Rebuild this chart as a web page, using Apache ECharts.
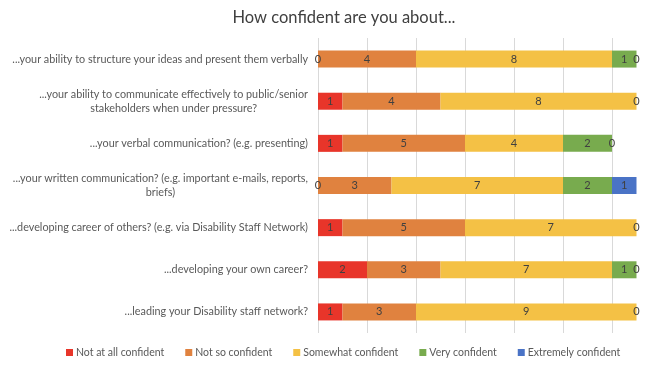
<!DOCTYPE html>
<html><head><meta charset="utf-8">
<script src="https://cdn.jsdelivr.net/npm/echarts@6/dist/echarts.min.js"></script>
<style>html,body{margin:0;padding:0;background:#fff}#c{width:654px;height:366px}</style>
</head><body><div id="c"></div>
<script>
const categories = [
  "...your ability to structure your ideas and present them verbally",
  "...your ability to communicate effectively to public/senior\nstakeholders when under pressure?",
  "...your verbal communication? (e.g. presenting)",
  "...your written communication? (e.g. important e-mails, reports,\nbriefs)",
  "...developing career of others? (e.g. via Disability Staff Network)",
  "...developing your own career?",
  "...leading your Disability staff network?"
];
const seriesNames = ["Not at all confident","Not so confident","Somewhat confident","Very confident","Extremely confident"];
const notAtAll   = [0,1,1,0,1,2,1];
const notSo      = [4,4,5,3,5,3,3];
const somewhat   = [8,8,4,7,7,7,9];
const very       = [1,0,2,2,0,1,0];
const extremely  = [0,0,0,1,0,0,0];
const colors = ["#E8352A","#E0823F","#F4C145","#78AB4E","#4A73C6"];
const values = [notAtAll, notSo, somewhat, very, extremely];

const chart = echarts.init(document.getElementById('c'));
const font = "Lato, 'Open Sans', sans-serif";
chart.setOption({
  animation:false,
  title:{text:"How confident are you about...",left:339,textAlign:'center',top:4,
    textStyle:{fontFamily:font,fontSize:16.5,fontWeight:'normal',color:'#404040'}},
  legend:{bottom:3,left:61,itemWidth:7,itemHeight:7,itemGap:21,icon:'rect',
    textStyle:{fontFamily:font,fontSize:10.5,color:'#595959',padding:[0,0,0,-2]}},
  grid:{left:318,top:38,height:295,width:318.5,containLabel:false},
  xAxis:{type:'value',min:0,max:13,interval:2,
    axisLabel:{show:false},axisLine:{show:false},axisTick:{show:false},
    splitLine:{showMaxLine:false,lineStyle:{color:'#d9d9d9',width:1}}},
  yAxis:{type:'category',data:categories,inverse:true,
    axisLine:{show:false},axisTick:{show:false},
    axisLabel:{margin:10,fontFamily:font,fontSize:10.8,color:'#595959',lineHeight:14,
      formatter:function(v){return v.split('\n').map(l=>'{c|'+l+'}').join('\n');},
      rich:{c:{align:'center',fontFamily:font,fontSize:10.8,color:'#595959',lineHeight:14}}}},
  series: seriesNames.map((n,i)=>({
    name:n,type:'bar',stack:'t',barWidth:17,data:values[i],
    itemStyle:{color:colors[i]},
    labelLayout:{hideOverlap:true},
    label:{show:true,position:'inside',fontFamily:font,fontSize:11,color:'#404040'}
  }))
});
</script></body></html>
